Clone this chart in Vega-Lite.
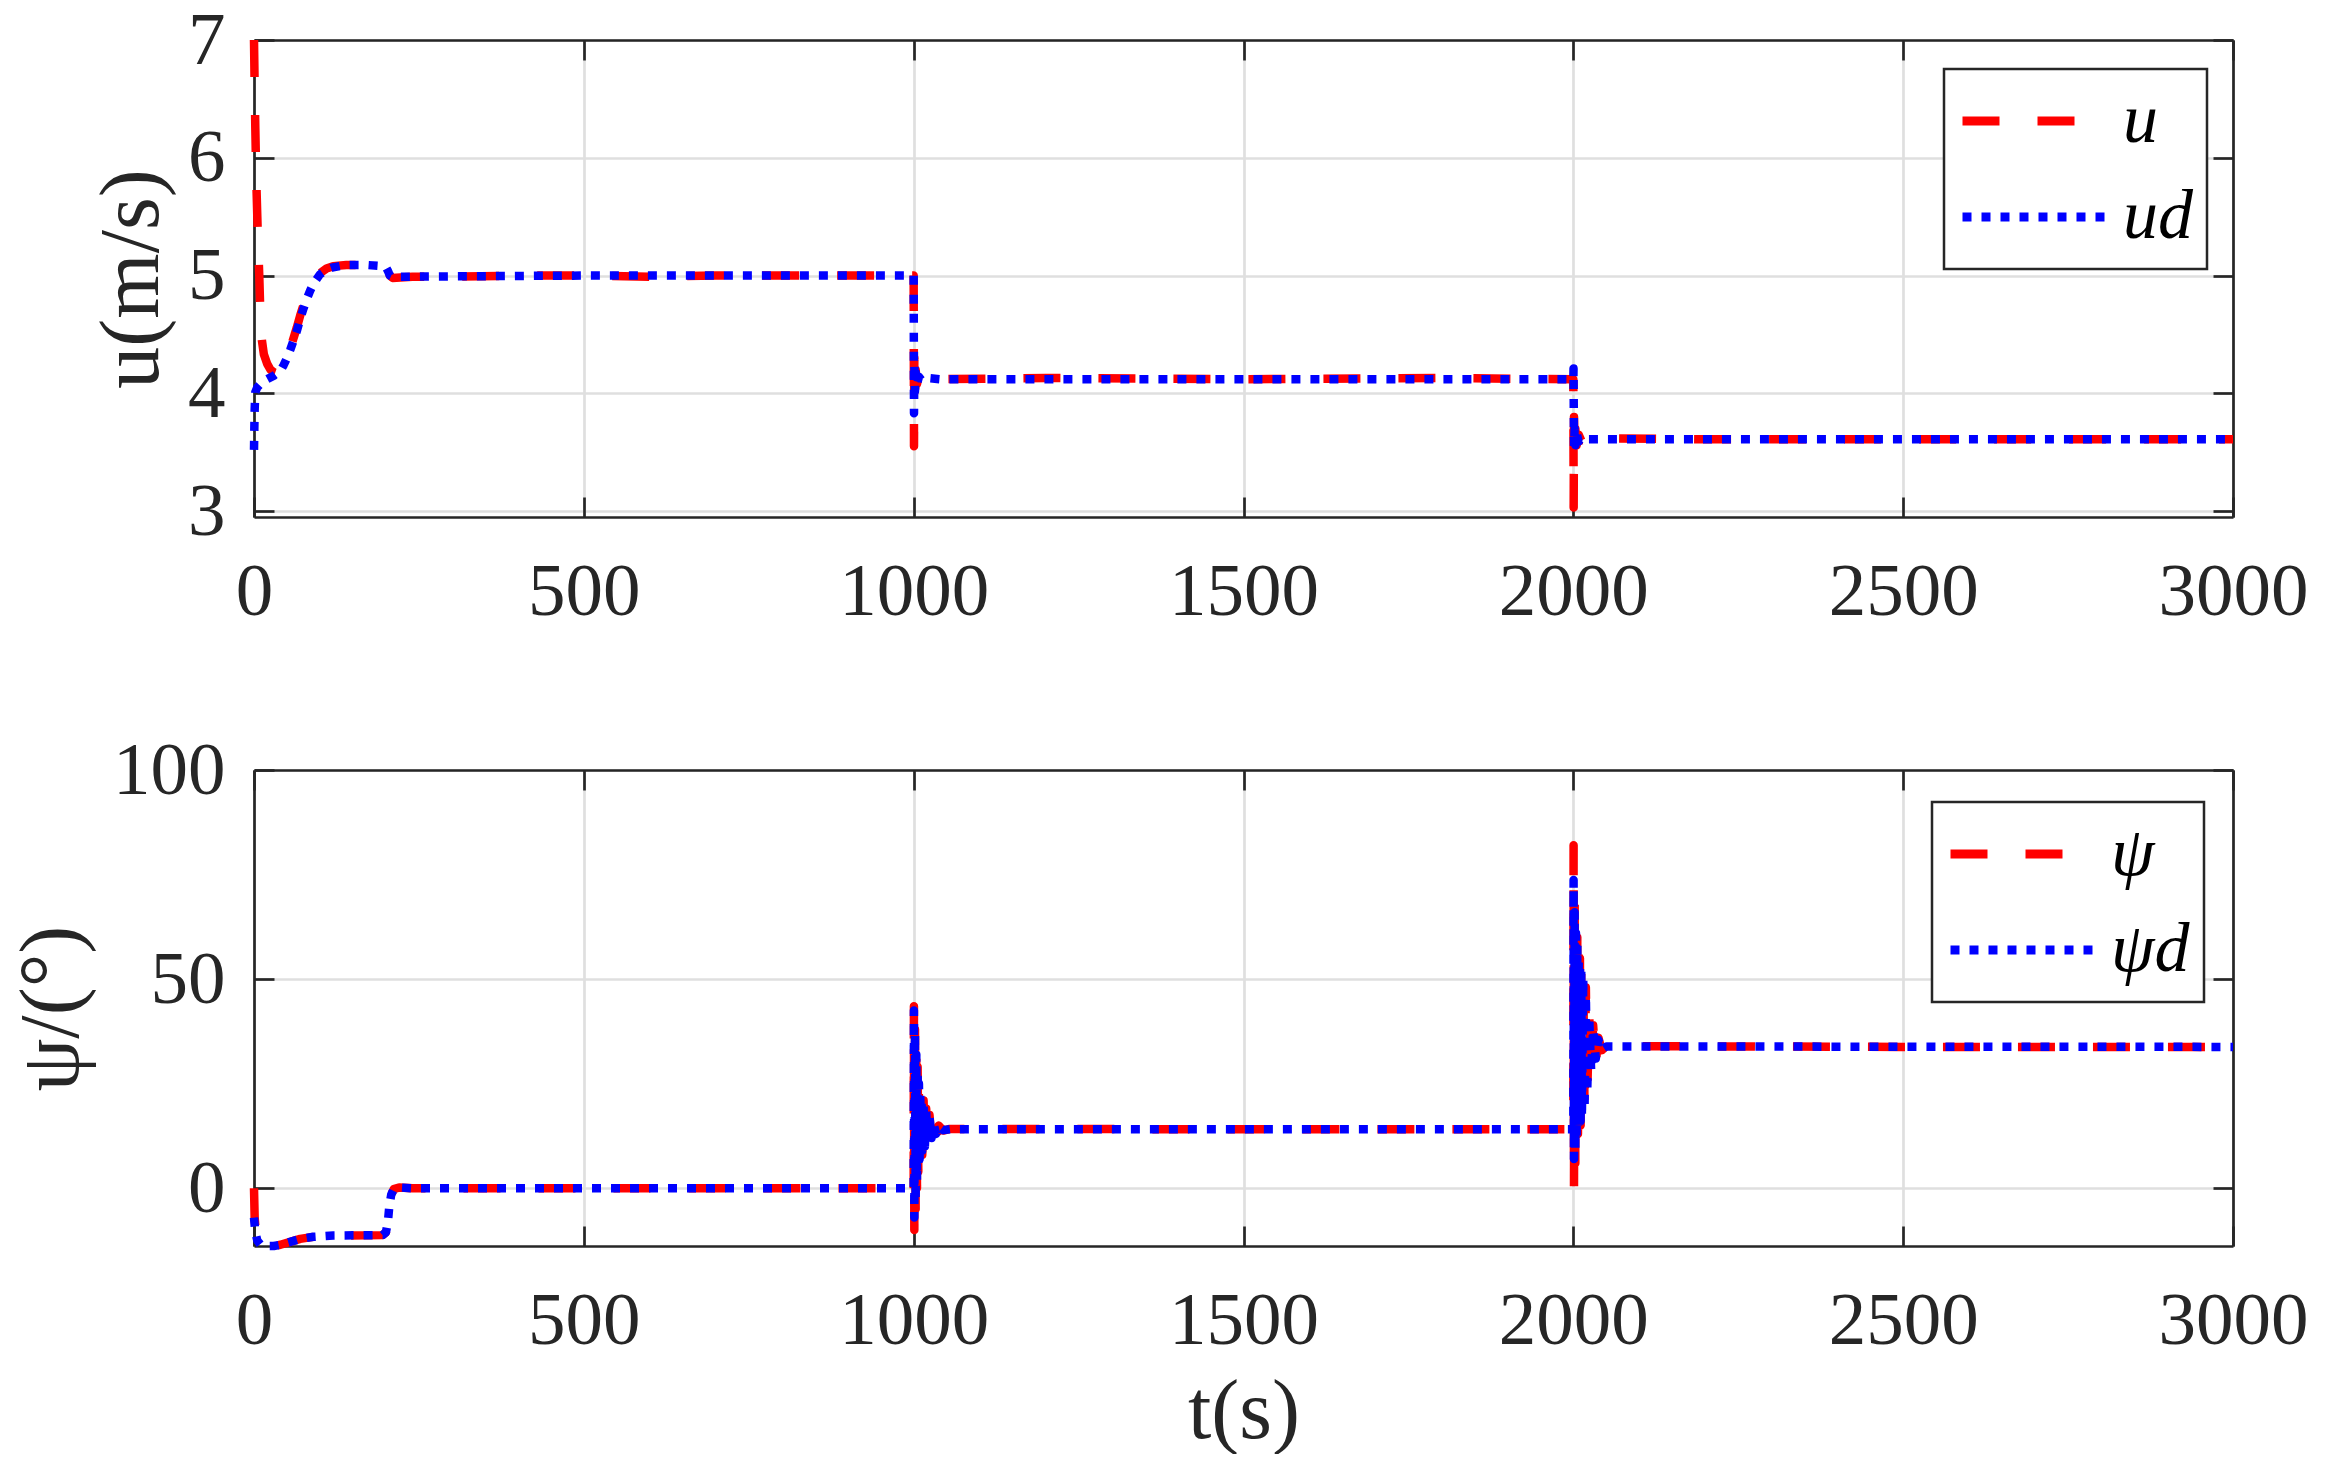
{
  "$schema": "https://vega.github.io/schema/vega-lite/v6.json",
  "padding": {"left": 10, "top": 3, "right": 0, "bottom": 0},
  "background": "white",
  "config": {"view": {"stroke": null}, "font": "Liberation Serif"},
  "bounds": "flush",
  "spacing": 253,
  "resolve": {
    "scale": {"color": "independent", "strokeDash": "independent"},
    "legend": {"color": "independent", "strokeDash": "independent"}
  },
  "datasets": {
    "u": [
      {"s":"u","t":0,"v":7.0},{"s":"u","t":1,"v":6.6},{"s":"u","t":2,"v":6.25},{"s":"u","t":3,"v":5.95},{"s":"u","t":4,"v":5.7},{"s":"u","t":5,"v":5.5},{"s":"u","t":6,"v":5.3},{"s":"u","t":7,"v":5.15},{"s":"u","t":8,"v":5.0},{"s":"u","t":9,"v":4.8},{"s":"u","t":10,"v":4.6},{"s":"u","t":12,"v":4.45},{"s":"u","t":15,"v":4.33},{"s":"u","t":20,"v":4.25},{"s":"u","t":25,"v":4.2},{"s":"u","t":30,"v":4.18},{"s":"u","t":35,"v":4.17},{"s":"u","t":40,"v":4.19},{"s":"u","t":45,"v":4.23},{"s":"u","t":50,"v":4.3},{"s":"u","t":55,"v":4.38},{"s":"u","t":60,"v":4.47},{"s":"u","t":65,"v":4.56},{"s":"u","t":70,"v":4.66},{"s":"u","t":75,"v":4.75},{"s":"u","t":80,"v":4.83},{"s":"u","t":85,"v":4.9},{"s":"u","t":90,"v":4.95},{"s":"u","t":95,"v":4.99},{"s":"u","t":100,"v":5.02},{"s":"u","t":110,"v":5.06},{"s":"u","t":120,"v":5.08},{"s":"u","t":140,"v":5.09},{"s":"u","t":170,"v":5.09},{"s":"u","t":195,"v":5.08},{"s":"u","t":200,"v":5.07},{"s":"u","t":203,"v":5.04},{"s":"u","t":206,"v":5.0},{"s":"u","t":210,"v":4.98},{"s":"u","t":240,"v":4.99},{"s":"u","t":300,"v":4.99},{"s":"u","t":400,"v":5.0},{"s":"u","t":500,"v":5.0},{"s":"u","t":600,"v":4.99},{"s":"u","t":700,"v":5.0},{"s":"u","t":800,"v":5.0},{"s":"u","t":900,"v":5.0},{"s":"u","t":999,"v":5.0},{"s":"u","t":1000,"v":5.0},{"s":"u","t":1000.5,"v":3.55},{"s":"u","t":1001,"v":4.3},{"s":"u","t":1002,"v":4.0},{"s":"u","t":1003,"v":4.2},{"s":"u","t":1005,"v":4.08},{"s":"u","t":1008,"v":4.15},{"s":"u","t":1012,"v":4.11},{"s":"u","t":1020,"v":4.13},{"s":"u","t":1040,"v":4.12},{"s":"u","t":1200,"v":4.13},{"s":"u","t":1500,"v":4.12},{"s":"u","t":1800,"v":4.13},{"s":"u","t":1999,"v":4.12},{"s":"u","t":2000,"v":4.12},{"s":"u","t":2000.5,"v":3.03},{"s":"u","t":2001,"v":3.8},{"s":"u","t":2002,"v":3.5},{"s":"u","t":2003,"v":3.7},{"s":"u","t":2005,"v":3.56},{"s":"u","t":2008,"v":3.65},{"s":"u","t":2012,"v":3.6},{"s":"u","t":2020,"v":3.62},{"s":"u","t":2200,"v":3.61},{"s":"u","t":2500,"v":3.61},{"s":"u","t":2800,"v":3.61},{"s":"u","t":3000,"v":3.61}
    ],
    "ud": [
      {"s":"ud","t":0,"v":3.52},{"s":"ud","t":0.5,"v":3.7},{"s":"ud","t":1,"v":3.86},{"s":"ud","t":2,"v":4.01},{"s":"ud","t":5,"v":4.05},{"s":"ud","t":10,"v":4.08},{"s":"ud","t":20,"v":4.12},{"s":"ud","t":30,"v":4.15},{"s":"ud","t":40,"v":4.19},{"s":"ud","t":45,"v":4.24},{"s":"ud","t":50,"v":4.3},{"s":"ud","t":55,"v":4.37},{"s":"ud","t":60,"v":4.45},{"s":"ud","t":65,"v":4.53},{"s":"ud","t":70,"v":4.63},{"s":"ud","t":75,"v":4.72},{"s":"ud","t":80,"v":4.8},{"s":"ud","t":85,"v":4.87},{"s":"ud","t":90,"v":4.93},{"s":"ud","t":95,"v":4.97},{"s":"ud","t":100,"v":5.01},{"s":"ud","t":110,"v":5.05},{"s":"ud","t":120,"v":5.07},{"s":"ud","t":140,"v":5.09},{"s":"ud","t":170,"v":5.09},{"s":"ud","t":195,"v":5.08},{"s":"ud","t":200,"v":5.07},{"s":"ud","t":203,"v":5.04},{"s":"ud","t":206,"v":5.0},{"s":"ud","t":210,"v":4.99},{"s":"ud","t":500,"v":5.0},{"s":"ud","t":999,"v":5.0},{"s":"ud","t":1000,"v":5.0},{"s":"ud","t":1000.5,"v":3.83},{"s":"ud","t":1001,"v":4.25},{"s":"ud","t":1002,"v":4.02},{"s":"ud","t":1003,"v":4.18},{"s":"ud","t":1005,"v":4.08},{"s":"ud","t":1008,"v":4.14},{"s":"ud","t":1012,"v":4.11},{"s":"ud","t":1020,"v":4.13},{"s":"ud","t":1040,"v":4.12},{"s":"ud","t":1999,"v":4.12},{"s":"ud","t":2000,"v":4.12},{"s":"ud","t":2000.3,"v":4.21},{"s":"ud","t":2001,"v":3.55},{"s":"ud","t":2002,"v":3.7},{"s":"ud","t":2003,"v":3.56},{"s":"ud","t":2005,"v":3.66},{"s":"ud","t":2008,"v":3.59},{"s":"ud","t":2012,"v":3.62},{"s":"ud","t":2020,"v":3.61},{"s":"ud","t":3000,"v":3.61}
    ],
    "psi": [
      {"s":"ψ","t":0,"v":0},{"s":"ψ","t":1,"v":-7},{"s":"ψ","t":3,"v":-11},{"s":"ψ","t":6,"v":-13},{"s":"ψ","t":10,"v":-13.6},{"s":"ψ","t":20,"v":-13.8},{"s":"ψ","t":30,"v":-13.8},{"s":"ψ","t":40,"v":-13.5},{"s":"ψ","t":55,"v":-12.8},{"s":"ψ","t":70,"v":-12.1},{"s":"ψ","t":90,"v":-11.6},{"s":"ψ","t":120,"v":-11.3},{"s":"ψ","t":195,"v":-11.2},{"s":"ψ","t":200,"v":-10.5},{"s":"ψ","t":203,"v":-8},{"s":"ψ","t":205,"v":-4.5},{"s":"ψ","t":208,"v":-1.5},{"s":"ψ","t":212,"v":-0.2},{"s":"ψ","t":220,"v":0.2},{"s":"ψ","t":240,"v":0},{"s":"ψ","t":600,"v":0},{"s":"ψ","t":999,"v":0},{"s":"ψ","t":1000,"v":0},{"s":"ψ","t":1000.4,"v":43.5},{"s":"ψ","t":1001,"v":-10},{"s":"ψ","t":1002,"v":38},{"s":"ψ","t":1003,"v":-5},{"s":"ψ","t":1004,"v":33},{"s":"ψ","t":1005,"v":0},{"s":"ψ","t":1006,"v":29},{"s":"ψ","t":1007,"v":4},{"s":"ψ","t":1008,"v":26},{"s":"ψ","t":1009,"v":6},{"s":"ψ","t":1010,"v":24},{"s":"ψ","t":1011,"v":7},{"s":"ψ","t":1012,"v":22},{"s":"ψ","t":1013,"v":8},{"s":"ψ","t":1015,"v":21},{"s":"ψ","t":1017,"v":9},{"s":"ψ","t":1019,"v":19},{"s":"ψ","t":1021,"v":10.5},{"s":"ψ","t":1024,"v":17.5},{"s":"ψ","t":1027,"v":11.5},{"s":"ψ","t":1030,"v":16},{"s":"ψ","t":1034,"v":12.5},{"s":"ψ","t":1038,"v":15},{"s":"ψ","t":1045,"v":13.8},{"s":"ψ","t":1055,"v":14.2},{"s":"ψ","t":1500,"v":14.1},{"s":"ψ","t":1999,"v":14.1},{"s":"ψ","t":2000,"v":14.1},{"s":"ψ","t":2000.4,"v":82},{"s":"ψ","t":2001,"v":0},{"s":"ψ","t":2002,"v":70},{"s":"ψ","t":2003,"v":6},{"s":"ψ","t":2004,"v":64},{"s":"ψ","t":2005,"v":10},{"s":"ψ","t":2006,"v":60},{"s":"ψ","t":2007,"v":13},{"s":"ψ","t":2008,"v":57},{"s":"ψ","t":2009,"v":14},{"s":"ψ","t":2010,"v":55},{"s":"ψ","t":2011,"v":15},{"s":"ψ","t":2012,"v":54},{"s":"ψ","t":2013,"v":16},{"s":"ψ","t":2015,"v":52},{"s":"ψ","t":2017,"v":18},{"s":"ψ","t":2019,"v":48},{"s":"ψ","t":2021,"v":22},{"s":"ψ","t":2024,"v":42},{"s":"ψ","t":2027,"v":27},{"s":"ψ","t":2030,"v":39},{"s":"ψ","t":2034,"v":30},{"s":"ψ","t":2038,"v":36},{"s":"ψ","t":2043,"v":33},{"s":"ψ","t":2050,"v":34},{"s":"ψ","t":2500,"v":33.8},{"s":"ψ","t":3000,"v":33.8}
    ],
    "psid": [
      {"s":"ψd","t":0,"v":-7},{"s":"ψd","t":2,"v":-10.5},{"s":"ψd","t":5,"v":-12.5},{"s":"ψd","t":10,"v":-13.5},{"s":"ψd","t":15,"v":-13.8},{"s":"ψd","t":30,"v":-13.8},{"s":"ψd","t":40,"v":-13.5},{"s":"ψd","t":55,"v":-12.8},{"s":"ψd","t":70,"v":-12.1},{"s":"ψd","t":90,"v":-11.6},{"s":"ψd","t":120,"v":-11.3},{"s":"ψd","t":195,"v":-11.2},{"s":"ψd","t":200,"v":-10.5},{"s":"ψd","t":203,"v":-8},{"s":"ψd","t":205,"v":-4.5},{"s":"ψd","t":208,"v":-1.5},{"s":"ψd","t":212,"v":-0.2},{"s":"ψd","t":220,"v":0.2},{"s":"ψd","t":240,"v":0},{"s":"ψd","t":999,"v":0},{"s":"ψd","t":1000,"v":0},{"s":"ψd","t":1000.4,"v":42.5},{"s":"ψd","t":1001,"v":-7},{"s":"ψd","t":1002,"v":37},{"s":"ψd","t":1003,"v":-3},{"s":"ψd","t":1004,"v":32},{"s":"ψd","t":1005,"v":2},{"s":"ψd","t":1006,"v":28},{"s":"ψd","t":1007,"v":5},{"s":"ψd","t":1008,"v":25},{"s":"ψd","t":1009,"v":7},{"s":"ψd","t":1010,"v":23},{"s":"ψd","t":1011,"v":8},{"s":"ψd","t":1012,"v":21},{"s":"ψd","t":1013,"v":9},{"s":"ψd","t":1015,"v":20},{"s":"ψd","t":1017,"v":10},{"s":"ψd","t":1019,"v":18.5},{"s":"ψd","t":1021,"v":11},{"s":"ψd","t":1024,"v":17},{"s":"ψd","t":1027,"v":12},{"s":"ψd","t":1030,"v":15.5},{"s":"ψd","t":1034,"v":13},{"s":"ψd","t":1038,"v":14.8},{"s":"ψd","t":1045,"v":13.9},{"s":"ψd","t":1055,"v":14.1},{"s":"ψd","t":1999,"v":14.1},{"s":"ψd","t":2000,"v":14.1},{"s":"ψd","t":2000.4,"v":73.7},{"s":"ψd","t":2001,"v":7},{"s":"ψd","t":2002,"v":66},{"s":"ψd","t":2003,"v":9},{"s":"ψd","t":2004,"v":61},{"s":"ψd","t":2005,"v":12},{"s":"ψd","t":2006,"v":58},{"s":"ψd","t":2007,"v":14},{"s":"ψd","t":2008,"v":55},{"s":"ψd","t":2009,"v":15},{"s":"ψd","t":2010,"v":53},{"s":"ψd","t":2011,"v":16},{"s":"ψd","t":2012,"v":52},{"s":"ψd","t":2013,"v":17},{"s":"ψd","t":2015,"v":50},{"s":"ψd","t":2017,"v":19},{"s":"ψd","t":2019,"v":46},{"s":"ψd","t":2021,"v":23},{"s":"ψd","t":2024,"v":41},{"s":"ψd","t":2027,"v":28},{"s":"ψd","t":2030,"v":38},{"s":"ψd","t":2034,"v":31},{"s":"ψd","t":2038,"v":35.5},{"s":"ψd","t":2043,"v":33.2},{"s":"ψd","t":2050,"v":33.9},{"s":"ψd","t":3000,"v":33.8}
    ]
  },
  "vconcat": [
    {
      "width": 1979,
      "height": 477,
      "resolve": {"axis": {"x": "independent", "y": "independent"}},
      "layer": [
        {
          "data": {"name": "u"},
          "mark": {"type": "line", "strokeWidth": 8.5, "strokeCap": "butt", "strokeJoin": "round"},
          "encoding": {
            "x": {"field": "t", "type": "quantitative", "scale": {"domain": [0, 3000], "nice": false, "zero": false},
              "axis": {"orient": "bottom", "values": [0, 500, 1000, 1500, 2000, 2500, 3000], "format": "d", "grid": true, "gridColor": "#dfdfdf", "gridWidth": 2.7, "domainColor": "#262626", "domainWidth": 2.7, "tickColor": "#262626", "tickWidth": 2.7, "tickSize": -20, "labelPadding": 58, "labelFont": "Liberation Serif", "labelFontSize": 75, "labelColor": "#262626", "labelFlush": false, "labelOverlap": false, "labelBound": false, "title": null}},
            "y": {"field": "v", "type": "quantitative", "scale": {"domain": [2.95, 7], "nice": false, "zero": false},
              "axis": {"orient": "left", "values": [3, 4, 5, 6, 7], "format": "d", "grid": true, "gridColor": "#dfdfdf", "gridWidth": 2.7, "domainColor": "#262626", "domainWidth": 2.7, "tickColor": "#262626", "tickWidth": 2.7, "tickSize": -20, "labelPadding": 49, "labelFont": "Liberation Serif", "labelFontSize": 75, "labelColor": "#262626", "labelFlush": false, "labelOverlap": false, "title": "u(m/s)", "titleFont": "Liberation Serif", "titleFontSize": 84, "titleFontWeight": "normal", "titleColor": "#262626", "titleAngle": 270, "titleAlign": "center", "titleBaseline": "middle", "titleX": -122, "titleY": 238.5}},
            "color": {"field": "s", "type": "nominal", "scale": {"domain": ["u", "ud"], "range": ["#ff0000", "#0000ff"]},
              "legend": {"title": null, "orient": "none", "legendX": 1690, "legendY": 29, "symbolType": "stroke", "symbolSize": 20164, "symbolStrokeWidth": 9, "labelFont": "Liberation Serif", "labelFontStyle": "italic", "labelFontSize": 70, "labelColor": "#000000", "labelOffset": 14, "padding": 14, "rowPadding": 20, "clipHeight": 76, "strokeColor": "#262626", "fillColor": "#ffffff", "encode": {"legend": {"update": {"strokeWidth": {"value": 2.5}}}}}},
            "strokeDash": {"field": "s", "type": "nominal", "scale": {"domain": ["u", "ud"], "range": [[37, 38], [9, 10]]},
              "legend": {"title": null, "orient": "none", "legendX": 1690, "legendY": 29, "symbolType": "stroke", "symbolSize": 20164, "symbolStrokeWidth": 9, "labelFont": "Liberation Serif", "labelFontStyle": "italic", "labelFontSize": 70, "labelColor": "#000000", "labelOffset": 14, "padding": 14, "rowPadding": 20, "clipHeight": 76, "strokeColor": "#262626", "fillColor": "#ffffff", "encode": {"legend": {"update": {"strokeWidth": {"value": 2.5}}}}}}
          }
        },
        {
          "data": {"name": "ud"},
          "mark": {"type": "line", "strokeWidth": 8.5, "strokeCap": "butt", "strokeJoin": "round"},
          "encoding": {
            "x": {"field": "t", "type": "quantitative", "scale": {"domain": [0, 3000], "nice": false, "zero": false},
              "axis": {"orient": "top", "values": [0, 500, 1000, 1500, 2000, 2500, 3000], "grid": false, "labels": false, "domainColor": "#262626", "domainWidth": 2.7, "tickColor": "#262626", "tickWidth": 2.7, "tickSize": -20, "title": null}},
            "y": {"field": "v", "type": "quantitative", "scale": {"domain": [2.95, 7], "nice": false, "zero": false},
              "axis": {"orient": "right", "values": [3, 4, 5, 6, 7], "grid": false, "labels": false, "domainColor": "#262626", "domainWidth": 2.7, "tickColor": "#262626", "tickWidth": 2.7, "tickSize": -20, "title": null}},
            "color": {"field": "s", "type": "nominal", "scale": {"domain": ["u", "ud"], "range": ["#ff0000", "#0000ff"]}},
            "strokeDash": {"field": "s", "type": "nominal", "scale": {"domain": ["u", "ud"], "range": [[37, 38], [9, 10]]}}
          }
        }
      ]
    },
    {
      "width": 1979,
      "height": 476,
      "resolve": {"axis": {"x": "independent", "y": "independent"}},
      "layer": [
        {
          "data": {"name": "psi"},
          "mark": {"type": "line", "strokeWidth": 8.5, "strokeCap": "butt", "strokeJoin": "round"},
          "encoding": {
            "x": {"field": "t", "type": "quantitative", "scale": {"domain": [0, 3000], "nice": false, "zero": false},
              "axis": {"orient": "bottom", "values": [0, 500, 1000, 1500, 2000, 2500, 3000], "format": "d", "grid": true, "gridColor": "#dfdfdf", "gridWidth": 2.7, "domainColor": "#262626", "domainWidth": 2.7, "tickColor": "#262626", "tickWidth": 2.7, "tickSize": -20, "labelPadding": 58, "labelFont": "Liberation Serif", "labelFontSize": 75, "labelColor": "#262626", "labelFlush": false, "labelOverlap": false, "labelBound": false, "title": "t(s)", "titleFont": "Liberation Serif", "titleFontSize": 84, "titleFontWeight": "normal", "titleColor": "#262626", "titleAngle": 0, "titleAlign": "center", "titleBaseline": "middle", "titleX": 989.5, "titleY": 166}},
            "y": {"field": "v", "type": "quantitative", "scale": {"domain": [-13.8, 100], "nice": false, "zero": false},
              "axis": {"orient": "left", "values": [0, 50, 100], "format": "d", "grid": true, "gridColor": "#dfdfdf", "gridWidth": 2.7, "domainColor": "#262626", "domainWidth": 2.7, "tickColor": "#262626", "tickWidth": 2.7, "tickSize": -20, "labelPadding": 49, "labelFont": "Liberation Serif", "labelFontSize": 75, "labelColor": "#262626", "labelFlush": false, "labelOverlap": false, "title": "ψ/(°)", "titleFont": "Liberation Serif", "titleFontSize": 84, "titleFontWeight": "normal", "titleColor": "#262626", "titleAngle": 270, "titleAlign": "center", "titleBaseline": "middle", "titleX": -202, "titleY": 238}},
            "color": {"field": "s", "type": "nominal", "scale": {"domain": ["ψ", "ψd"], "range": ["#ff0000", "#0000ff"]},
              "legend": {"title": null, "orient": "none", "legendX": 1678, "legendY": 32, "symbolType": "stroke", "symbolSize": 20164, "symbolStrokeWidth": 9, "labelFont": "Liberation Serif", "labelFontStyle": "italic", "labelFontSize": 70, "labelColor": "#000000", "labelOffset": 14, "padding": 14, "rowPadding": 20, "clipHeight": 76, "strokeColor": "#262626", "fillColor": "#ffffff", "encode": {"legend": {"update": {"strokeWidth": {"value": 2.5}}}}}},
            "strokeDash": {"field": "s", "type": "nominal", "scale": {"domain": ["ψ", "ψd"], "range": [[37, 38], [9, 10]]},
              "legend": {"title": null, "orient": "none", "legendX": 1678, "legendY": 32, "symbolType": "stroke", "symbolSize": 20164, "symbolStrokeWidth": 9, "labelFont": "Liberation Serif", "labelFontStyle": "italic", "labelFontSize": 70, "labelColor": "#000000", "labelOffset": 14, "padding": 14, "rowPadding": 20, "clipHeight": 76, "strokeColor": "#262626", "fillColor": "#ffffff", "encode": {"legend": {"update": {"strokeWidth": {"value": 2.5}}}}}}
          }
        },
        {
          "data": {"name": "psid"},
          "mark": {"type": "line", "strokeWidth": 8.5, "strokeCap": "butt", "strokeJoin": "round"},
          "encoding": {
            "x": {"field": "t", "type": "quantitative", "scale": {"domain": [0, 3000], "nice": false, "zero": false},
              "axis": {"orient": "top", "values": [0, 500, 1000, 1500, 2000, 2500, 3000], "grid": false, "labels": false, "domainColor": "#262626", "domainWidth": 2.7, "tickColor": "#262626", "tickWidth": 2.7, "tickSize": -20, "title": null}},
            "y": {"field": "v", "type": "quantitative", "scale": {"domain": [-13.8, 100], "nice": false, "zero": false},
              "axis": {"orient": "right", "values": [0, 50, 100], "grid": false, "labels": false, "domainColor": "#262626", "domainWidth": 2.7, "tickColor": "#262626", "tickWidth": 2.7, "tickSize": -20, "title": null}},
            "color": {"field": "s", "type": "nominal", "scale": {"domain": ["ψ", "ψd"], "range": ["#ff0000", "#0000ff"]}},
            "strokeDash": {"field": "s", "type": "nominal", "scale": {"domain": ["ψ", "ψd"], "range": [[37, 38], [9, 10]]}}
          }
        }
      ]
    }
  ]
}
